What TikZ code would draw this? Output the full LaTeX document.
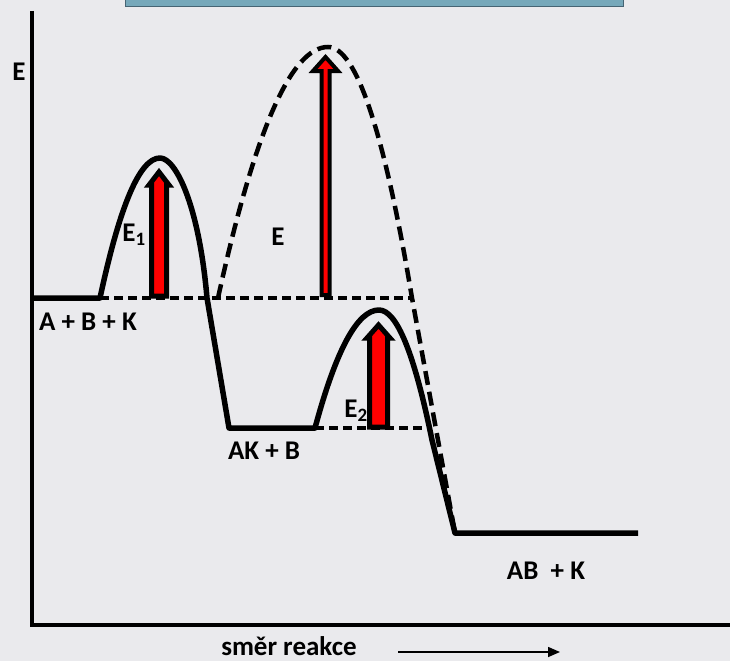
\documentclass[tikz,border=0pt]{standalone}
\usepackage{fontspec}
\setmainfont{Carlito}
\usetikzlibrary{arrows.meta}
\definecolor{bg}{RGB}{234,234,237}
\definecolor{barc}{RGB}{118,168,186}
\definecolor{bardark}{RGB}{70,100,115}
\begin{document}
\begin{tikzpicture}[x=1pt,y=-1pt,
  curve/.style={line width=5.5pt, line join=round},
  dashl/.style={line width=3.5pt, dash pattern=on 9pt off 5pt},
  bigdash/.style={line width=4.5pt, dash pattern=on 14pt off 7pt},
  axisline/.style={line width=4pt},
  lab/.style={font=\bfseries\fontsize{27}{31}\selectfont, inner sep=0pt},
  redarrow/.style={fill=red, draw=black, line width=5pt, line join=miter}
]
\fill[bg] (0,0) rectangle (730,661);
\useasboundingbox (0,0) rectangle (730,661);
% top bar
\fill[barc, draw=bardark, line width=1pt] (125,-2) rectangle (623,7);

% axes
\coordinate (ytop) at (32,11);
\coordinate (orig) at (32,625);
\coordinate (xend) at (732,625);
\draw[axisline] (ytop) -- (orig) -- (xend);
\node[lab] (Elab) at (19,72) {E};

% key points
\coordinate (L1a) at (32,298);
\coordinate (L1b) at (100,298);
\coordinate (P1) at (160,158);
\coordinate (D1) at (207,298);
\coordinate (L2a) at (229,428);
\coordinate (L2b) at (315,428);
\coordinate (P2) at (379,310);
\coordinate (D2) at (432,440);
\coordinate (L3a) at (455,533);
\coordinate (L3b) at (638,533);
\coordinate (U0) at (218,298);
\coordinate (PU) at (328,47);
\coordinate (U1) at (412,298);

% dashed level lines
\draw[dashl] (L1b) -- (U1);
\draw[dashl] (L2b) -- (432,428);

% big dashed (uncatalysed) curve
\draw[bigdash] (U0) .. controls (254.7,130.7) and (291.3,47) .. (PU)
   .. controls (356,47) and (384,130.7) .. (U1) -- (L3a);

% catalysed path
\draw[curve] (L1a) -- (L1b) .. controls (120,204.7) and (140,158) .. (P1)
   .. controls (175.7,158) and (199,205) .. (D1) -- (L2a) -- (L2b)
   .. controls (336.3,349) and (357.7,310) .. (P2)
   .. controls (396.7,310) and (414.3,353.3) .. (D2) -- (L3a) -- (L3b);

% activation energy arrows
\draw[redarrow] (151.5,296) -- (151.5,185) -- (149,185) -- (159,172) -- (169,185) -- (166.5,185) -- (166.5,296) -- cycle;
\draw[redarrow, line width=4pt] (321.5,295) -- (321.5,71) -- (313,71) -- (325.5,57) -- (338,71) -- (329.5,71) -- (329.5,295) -- cycle;
\draw[redarrow] (369.5,427) -- (369.5,338) -- (367,338) -- (378.5,325) -- (390,338) -- (387.5,338) -- (387.5,427) -- cycle;

% labels
\node[lab] (E1) at (134,235) {E\textsubscript{1}};
\node[lab] (Ebig) at (278,237) {E};
\node[lab] (E2) at (356,411) {E\textsubscript{2}};
\node[lab] (ABK) at (88,322) {A + B + K};
\node[lab] (AKB) at (264,451) {AK + B};
\node[lab] (ABKf) at (546,571) {AB~ + K};
\node[lab, anchor=base] (smer) at (289,655) {směr reakce};
\coordinate (ar0) at (398,652);
\coordinate (ar1) at (560,652);
\draw[line width=1.5pt, -{Triangle[length=12pt,width=10pt]}] (ar0) -- (ar1);
\end{tikzpicture}
\end{document}
